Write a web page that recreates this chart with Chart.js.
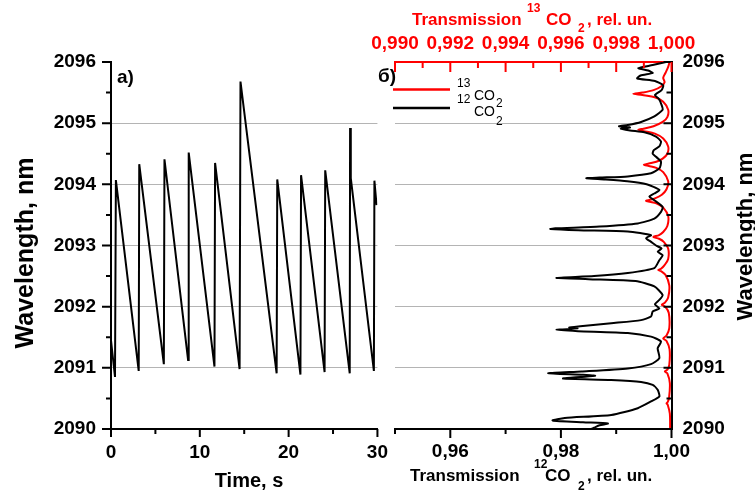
<!DOCTYPE html>
<html><head><meta charset="utf-8">
<script src="https://cdn.jsdelivr.net/npm/chart.js@4.4.1/dist/chart.umd.min.js"></script>
<style>
html,body{margin:0;padding:0;background:#fff;}
#wrap{position:relative;width:755px;height:493px;overflow:hidden;background:#fff;}
#ca{position:absolute;left:0;top:0;}
#cb{position:absolute;left:360px;top:0;}
</style></head><body>
<div id="wrap">
<canvas id="ca" width="400" height="493"></canvas>
<canvas id="cb" width="395" height="493"></canvas>
</div>
<script>
// ---- data: panel a) laser wavelength vs time ----
const timeS = [0, 0.45, 0.55, 3.12, 3.18, 5.95, 6.02, 8.68, 8.75, 11.65, 11.72, 14.48, 14.58, 18.65, 18.72, 21.33, 21.40, 24.05, 24.12, 26.88, 26.92, 27.0, 29.6, 29.66, 29.9];
const wlScan = [2091.45, 2090.85, 2094.07, 2090.95, 2094.33, 2091.06, 2094.41, 2091.13, 2094.52, 2091.02, 2094.35, 2090.98, 2095.68, 2090.91, 2094.08, 2090.89, 2094.15, 2090.93, 2094.23, 2090.91, 2094.92, 2094.10, 2090.95, 2094.06, 2093.66];

// ---- data: panel б) 12CO2 transmission (bottom axis) ----
const wl12 = [2096.00,2095.95,2095.90,2095.86,2095.82,2095.78,2095.73,2095.69,2095.62,2095.54,2095.46,2095.40,2095.30,2095.22,2095.11,2095.02,2094.97,2094.95,2094.93,2094.91,2094.88,2094.85,2094.78,2094.70,2094.62,2094.56,2094.50,2094.45,2094.37,2094.26,2094.18,2094.13,2094.11,2094.10,2094.08,2094.05,2094.00,2093.91,2093.85,2093.80,2093.74,2093.63,2093.55,2093.44,2093.36,2093.31,2093.28,2093.27,2093.25,2093.23,2093.17,2093.12,2093.06,2093.00,2092.95,2092.90,2092.84,2092.76,2092.63,2092.55,2092.50,2092.47,2092.45,2092.42,2092.33,2092.19,2092.11,2092.04,2091.97,2091.92,2091.84,2091.78,2091.73,2091.68,2091.66,2091.645,2091.62,2091.60,2091.57,2091.51,2091.43,2091.32,2091.16,2091.06,2090.99,2090.94,2090.91,2090.885,2090.87,2090.85,2090.825,2090.80,2090.77,2090.72,2090.64,2090.53,2090.45,2090.34,2090.23,2090.18,2090.14,2090.11,2090.09,2090.06,2090.02,2090.00];
const tr12 = [0.9990,0.9966,0.9940,0.9958,0.9966,0.9944,0.9938,0.9970,0.9985,0.9982,0.9970,0.9977,0.9982,0.9984,0.9969,0.9945,0.9921,0.9905,0.9925,0.9908,0.9925,0.9951,0.9972,0.9981,0.9978,0.9968,0.9966,0.9972,0.9981,0.9978,0.9963,0.9921,0.9870,0.9846,0.9880,0.9920,0.9955,0.9978,0.9969,0.9960,0.9969,0.9984,0.9981,0.9969,0.9939,0.9870,0.9790,0.9781,0.9831,0.9921,0.9963,0.9954,0.9963,0.9972,0.9982,0.9975,0.9984,0.9978,0.9969,0.9921,0.9860,0.9792,0.9850,0.9935,0.9969,0.9984,0.9978,0.9970,0.9978,0.9966,0.9963,0.9945,0.9891,0.9835,0.9815,0.9830,0.9792,0.9831,0.9921,0.9963,0.9981,0.9975,0.9978,0.9963,0.9921,0.9837,0.9777,0.9840,0.9862,0.9835,0.9804,0.9891,0.9945,0.9966,0.9975,0.9978,0.9963,0.9939,0.9891,0.9807,0.9785,0.9840,0.9885,0.9870,0.9860,0.9855];

// ---- data: panel б) 13CO2 transmission (top axis) ----
const wl13 = [2096.00,2095.92,2095.82,2095.74,2095.67,2095.60,2095.54,2095.50,2095.48,2095.46,2095.42,2095.35,2095.22,2095.10,2095.02,2094.95,2094.91,2094.89,2094.87,2094.83,2094.75,2094.62,2094.50,2094.42,2094.37,2094.34,2094.32,2094.30,2094.27,2094.20,2094.05,2093.92,2093.83,2093.77,2093.745,2093.73,2093.715,2093.69,2093.62,2093.48,2093.32,2093.22,2093.17,2093.14,2093.11,2093.06,2092.95,2092.78,2092.68,2092.62,2092.60,2092.58,2092.52,2092.35,2092.15,2092.07,2092.03,2092.00,2091.90,2091.65,2091.53,2091.48,2091.44,2091.30,2091.05,2090.97,2090.94,2090.91,2090.75,2090.50,2090.44,2090.42,2090.40,2090.25,2090.00];
const tr13 = [0.99993,0.99988,0.99978,0.99970,0.99975,0.99962,0.99935,0.99895,0.99862,0.99895,0.99942,0.99970,0.99988,0.99985,0.99968,0.99935,0.99898,0.99880,0.99900,0.99940,0.99970,0.99988,0.99985,0.99968,0.99945,0.99918,0.99900,0.99918,0.99945,0.99970,0.99988,0.99982,0.99965,0.99940,0.99920,0.99908,0.99922,0.99945,0.99970,0.99988,0.99985,0.99970,0.99955,0.99934,0.99955,0.99972,0.99988,0.99988,0.99975,0.99962,0.99952,0.99962,0.99978,0.99992,0.99988,0.99977,0.99965,0.99977,0.99990,0.99992,0.99982,0.99970,0.99982,0.99993,0.99992,0.99985,0.99976,0.99985,0.99994,0.99991,0.99986,0.99982,0.99986,0.99994,0.99995];

// ---- tick labels ----
const wlTickValues = [2090, 2091, 2092, 2093, 2094, 2095, 2096];
const wlTickLabels = ['2090', '2091', '2092', '2093', '2094', '2095', '2096'];
const timeTickValues = [0, 10, 20, 30];
const timeTickLabels = ['0', '10', '20', '30'];
const t12TickValues = [0.96, 0.98, 1.00];
const t12TickLabels = ['0,96', '0,98', '1,00'];
const t13TickValues = [0.990, 0.992, 0.994, 0.996, 0.998, 1.000];
const t13TickLabels = ['0,990', '0,992', '0,994', '0,996', '0,998', '1,000'];

const FAM = "'Liberation Sans', Arial, Helvetica, sans-serif";
const GRID = '#b4b4b4';
const RED = '#ff0000';

function labelFor(values, labels, v) {
  for (let i = 0; i < values.length; i++) if (Math.abs(values[i] - v) < 1e-7) return labels[i];
  return '';
}
function isMajor(values, v) {
  return values.some(x => Math.abs(x - v) < 1e-7);
}
function interiorGrid(ctx) {
  const v = ctx.tick ? ctx.tick.value : null;
  if (v === null) return 'rgba(0,0,0,0)';
  if (isMajor(wlTickValues, v) && Math.abs(v - 2090) > 1e-7 && Math.abs(v - 2096) > 1e-7) return GRID;
  return 'rgba(0,0,0,0)';
}
function txt(ctx, s, x, y, size, weight, color, align) {
  ctx.font = weight + ' ' + size + 'px ' + FAM;
  ctx.fillStyle = color;
  ctx.textAlign = align || 'left';
  ctx.textBaseline = 'alphabetic';
  ctx.fillText(s, x, y);
}

// ---- chart a) ----
const pluginA = {
  id: 'decorA',
  afterDraw(chart) {
    const ctx = chart.ctx, ca = chart.chartArea, ys = chart.scales.y, xs = chart.scales.x;
    ctx.save();
    ctx.strokeStyle = '#000'; ctx.lineWidth = 2; ctx.beginPath();
    ys.ticks.forEach(t => {
      const p = ys.getPixelForValue(t.value);
      const L = isMajor(wlTickValues, t.value) ? 9 : 5;
      ctx.moveTo(ca.left, p); ctx.lineTo(ca.left - L, p);
    });
    xs.ticks.forEach(t => {
      const p = xs.getPixelForValue(t.value);
      const L = isMajor(timeTickValues, t.value) ? 8 : 5;
      ctx.moveTo(p, ca.bottom); ctx.lineTo(p, ca.bottom + L);
    });
    ctx.stroke();
    txt(ctx, 'a)', 117, 83, 19, 'bold', '#000');
    txt(ctx, 'Time, s', 249, 487, 20, 'bold', '#000', 'center');
    ctx.translate(33, 253); ctx.rotate(-Math.PI / 2);
    txt(ctx, 'Wavelength, nm', 0, 0, 25, 'bold', '#000', 'center');
    ctx.restore();
  }
};

new Chart(document.getElementById('ca'), {
  type: 'scatter',
  data: { datasets: [{
    data: timeS.map((t, i) => ({ x: t, y: wlScan[i] })),
    showLine: true, borderColor: '#000', borderWidth: 2, pointRadius: 0, tension: 0
  }] },
  options: {
    responsive: false, animation: false, devicePixelRatio: 1,
    layout: { padding: { left: 0, top: 62, right: 13.3, bottom: 0 } },
    plugins: { legend: { display: false }, tooltip: { enabled: false } },
    scales: {
      x: {
        type: 'linear', min: 0, max: 30,
        afterFit(s) { s.height = 64; },
        ticks: { stepSize: 5, autoSkip: false, maxRotation: 0, minRotation: 0, padding: 12,
          font: { family: FAM, size: 19, weight: 'bold' }, color: '#000',
          callback: v => labelFor(timeTickValues, timeTickLabels, v) },
        grid: { display: true, drawOnChartArea: false, drawTicks: false },
        border: { display: true, color: '#000', width: 2 }
      },
      y: {
        type: 'linear', min: 2090, max: 2096,
        afterFit(s) { s.width = 111; },
        ticks: { stepSize: 0.5, autoSkip: false, padding: 15,
          font: { family: FAM, size: 19, weight: 'bold' }, color: '#000',
          callback: v => labelFor(wlTickValues, wlTickLabels, v) },
        grid: { color: interiorGrid, lineWidth: 1, drawTicks: false },
        border: { display: true, color: '#000', width: 2 }
      }
    }
  },
  plugins: [pluginA]
});

// ---- chart б) ----
const OX = 360;
const pluginB = {
  id: 'decorB',
  afterDraw(chart) {
    const ctx = chart.ctx, ca = chart.chartArea, ys = chart.scales.y, xb = chart.scales.xb, xt = chart.scales.xt;
    ctx.save();
    ctx.lineWidth = 2;
    ctx.strokeStyle = '#000'; ctx.beginPath();
    ys.ticks.forEach(t => {
      const p = ys.getPixelForValue(t.value);
      const L = isMajor(wlTickValues, t.value) ? 8 : 5;
      ctx.moveTo(ca.right, p); ctx.lineTo(ca.right - L, p);
    });
    xb.ticks.forEach(t => {
      const p = xb.getPixelForValue(t.value);
      const L = isMajor(t12TickValues, t.value) ? 9 : 5;
      ctx.moveTo(p, ca.bottom); ctx.lineTo(p, ca.bottom + L);
    });
    ctx.stroke();
    ctx.strokeStyle = RED; ctx.beginPath();
    xt.ticks.forEach(t => {
      const p = xt.getPixelForValue(t.value);
      const L = isMajor(t13TickValues, t.value) ? 10 : 6;
      ctx.moveTo(p, ca.top); ctx.lineTo(p, ca.top + L);
    });
    ctx.stroke();

    // panel label
    txt(ctx, 'б)', 378 - OX, 82, 19, 'bold', '#000');
    // legend
    ctx.lineWidth = 2.5;
    ctx.strokeStyle = RED; ctx.beginPath(); ctx.moveTo(393 - OX, 89.5); ctx.lineTo(450 - OX, 89.5); ctx.stroke();
    ctx.strokeStyle = '#000'; ctx.beginPath(); ctx.moveTo(393 - OX, 108); ctx.lineTo(450 - OX, 108); ctx.stroke();
    txt(ctx, '13', 457 - OX, 86.5, 12, 'normal', '#000');
    txt(ctx, 'CO', 474 - OX, 100, 14, 'normal', '#000');
    txt(ctx, '2', 496 - OX, 107, 12, 'normal', '#000');
    txt(ctx, '12', 457 - OX, 103, 12, 'normal', '#000');
    txt(ctx, 'CO', 474 - OX, 115.5, 14, 'normal', '#000');
    txt(ctx, '2', 496 - OX, 125, 12, 'normal', '#000');

    // top title (red)
    txt(ctx, 'Transmission', 412 - OX, 25, 17, 'bold', RED);
    txt(ctx, '13', 527 - OX, 12, 12, 'bold', RED);
    txt(ctx, 'CO', 546 - OX, 25, 17, 'bold', RED);
    txt(ctx, '2', 578 - OX, 32, 12, 'bold', RED);
    txt(ctx, ', rel. un.', 587 - OX, 25, 17, 'bold', RED);

    // bottom title
    txt(ctx, 'Transmission', 410 - OX, 481, 17, 'bold', '#000');
    txt(ctx, '12', 534 - OX, 468, 12, 'bold', '#000');
    txt(ctx, 'CO', 545 - OX, 481, 17, 'bold', '#000');
    txt(ctx, '2', 578 - OX, 490, 12, 'bold', '#000');
    txt(ctx, ', rel. un.', 587 - OX, 481, 17, 'bold', '#000');

    // right title
    ctx.translate(752 - OX, 236.5); ctx.rotate(-Math.PI / 2);
    txt(ctx, 'Wavelength, nm', 0, 0, 22, 'bold', '#000', 'center');
    ctx.restore();
  }
};

new Chart(document.getElementById('cb'), {
  type: 'scatter',
  data: { datasets: [
    { data: wl12.map((w, i) => ({ x: tr12[i], y: w })), xAxisID: 'xb', yAxisID: 'y',
      showLine: true, borderColor: '#000', borderWidth: 2, pointRadius: 0, tension: 0.2 },
    { data: wl13.map((w, i) => ({ x: tr13[i], y: w })), xAxisID: 'xt', yAxisID: 'y',
      showLine: true, borderColor: RED, borderWidth: 2, pointRadius: 0, tension: 0.3 }
  ] },
  options: {
    responsive: false, animation: false, devicePixelRatio: 1,
    layout: { padding: { left: 35, top: 0, right: 0, bottom: 0 } },
    plugins: { legend: { display: false }, tooltip: { enabled: false } },
    scales: {
      xb: {
        type: 'linear', position: 'bottom', min: 0.95, max: 1.0,
        afterFit(s) { s.height = 64; },
        ticks: { stepSize: 0.01, autoSkip: false, maxRotation: 0, minRotation: 0, padding: 11,
          font: { family: FAM, size: 19, weight: 'bold' }, color: '#000',
          callback: v => labelFor(t12TickValues, t12TickLabels, v) },
        grid: { display: true, drawOnChartArea: false, drawTicks: false },
        border: { display: true, color: '#000', width: 2 }
      },
      xt: {
        type: 'linear', position: 'top', min: 0.99, max: 1.0,
        afterFit(s) { s.height = 62; },
        ticks: { stepSize: 0.001, autoSkip: false, maxRotation: 0, minRotation: 0, padding: 7,
          font: { family: FAM, size: 19, weight: 'bold' }, color: RED,
          callback: v => labelFor(t13TickValues, t13TickLabels, v) },
        grid: { display: true, drawOnChartArea: false, drawTicks: false },
        border: { display: true, color: RED, width: 2 }
      },
      y: {
        type: 'linear', position: 'right', min: 2090, max: 2096,
        afterFit(s) { s.width = 83.5; },
        ticks: { stepSize: 0.5, autoSkip: false, padding: 11,
          font: { family: FAM, size: 19, weight: 'bold' }, color: '#000',
          callback: v => labelFor(wlTickValues, wlTickLabels, v) },
        grid: { color: interiorGrid, lineWidth: 1, drawTicks: false },
        border: { display: true, color: '#000', width: 2 }
      }
    }
  },
  plugins: [pluginB]
});
</script>
</body></html>
